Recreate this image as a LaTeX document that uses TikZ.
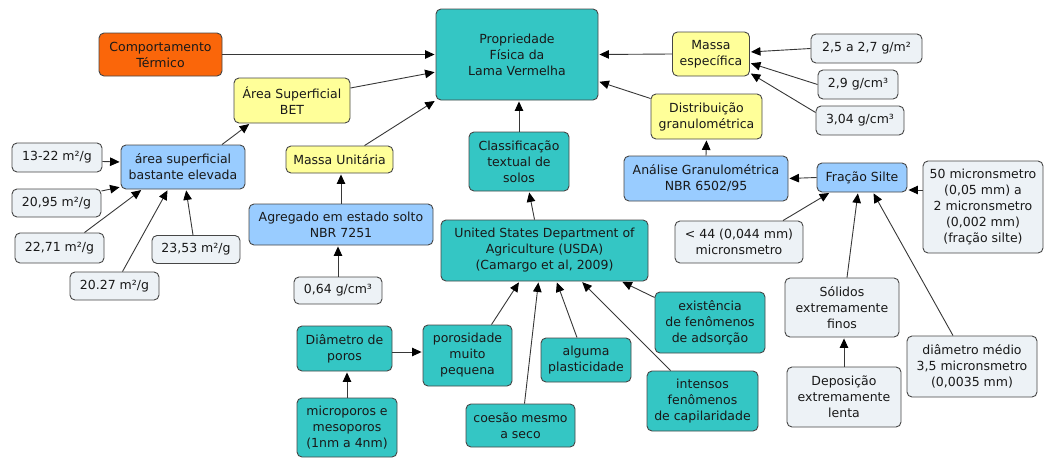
\documentclass[tikz,border=0pt]{standalone}
\usepackage{fontspec}
\setmainfont{DejaVu Sans}
\usetikzlibrary{arrows.meta,shapes}
\definecolor{tealbox}{RGB}{52,198,196}
\definecolor{yellowbox}{RGB}{255,255,153}
\definecolor{bluebox}{RGB}{153,204,255}
\definecolor{greybox}{RGB}{237,242,246}
\definecolor{orangebox}{RGB}{250,102,10}
\definecolor{edgecol}{RGB}{70,70,70}
\definecolor{linkcol}{RGB}{55,55,55}
\definecolor{textcol}{RGB}{25,25,25}

\begin{document}
\begin{tikzpicture}[x=1pt,y=-1pt,>={Triangle[length=9.5pt,width=8.5pt,color=black]},shorten >=1pt,font=\fontsize{12.5}{16}\selectfont,text=textcol]
 \tikzstyle{concept}=[draw=edgecol,line width=0.9pt,rounded corners=5pt,align=center,inner sep=1pt]
 \tikzstyle{cteal}=[concept,fill=tealbox]
 \tikzstyle{cyellow}=[concept,fill=yellowbox]
 \tikzstyle{cblue}=[concept,fill=bluebox]
 \tikzstyle{cgrey}=[concept,fill=greybox]
 \tikzstyle{corange}=[concept,fill=orangebox]
 \tikzstyle{link}=[->,draw=linkcol,line width=0.9pt]

   \useasboundingbox (0,0) rectangle (1046,458);

   % centre and the ones that point at it
   \node[cteal,minimum width=162,minimum height=91] (prop) at (517,54.5) {Propriedade\\Física da\\Lama Vermelha};
   \node[corange,minimum width=123,minimum height=43] (comp) at (160.5,54.5) {Comportamento\\Térmico};
   \node[cyellow,minimum width=116,minimum height=45] (bet) at (292,100.5) {Área Superficial\\BET};
   \node[cyellow,minimum width=107,minimum height=27] (massaunit) at (339.5,159.5) {Massa Unitária};
   \node[cyellow,minimum width=77,minimum height=44] (massaesp) at (711,54) {Massa\\específica};
   \node[cyellow,minimum width=111,minimum height=45] (distgran) at (706.5,116.5) {Distribuição\\granulométrica};
   \node[cteal,minimum width=100,minimum height=59] (classif) at (519,161.5) {Classificação\\textual de\\solos};

   % massa especifica
   \node[cgrey,minimum width=111,minimum height=29] (me1) at (866.5,48.5) {2,5 a 2,7 g/m²};
   \node[cgrey,minimum width=80,minimum height=29] (me2) at (858,84.5) {2,9 g/cm³};
   \node[cgrey,minimum width=88,minimum height=29] (me3) at (860,120.5) {3,04 g/cm³};

   % area superficial
   \node[cblue,minimum width=124,minimum height=44] (areasup) at (183,167) {área superficial\\bastante elevada};
   \node[cgrey,minimum width=90,minimum height=29] (as1) at (57,157.5) {13-22 m²/g};
   \node[cgrey,minimum width=89,minimum height=28] (as2) at (56.5,203) {20,95 m²/g};
   \node[cgrey,minimum width=89,minimum height=30] (as3) at (59.5,248) {22,71 m²/g};
   \node[cgrey,minimum width=88,minimum height=28] (as4) at (196,249.5) {23,53 m²/g};
   \node[cgrey,minimum width=89,minimum height=28] (as5) at (114.5,286) {20.27 m²/g};

   % massa unitaria
   \node[cblue,minimum width=184,minimum height=41] (agreg) at (341,224.5) {Agregado em estado solto\\NBR 7251};
   \node[cgrey,minimum width=88,minimum height=27] (mu1) at (338,290.5) {0,64 g/cm³};

   % classificacao textual
   \node[cteal,minimum width=207,minimum height=61] (usda) at (544.5,250.5) {United States Department of\\Agriculture (USDA)\\(Camargo et al, 2009)};
   \node[cteal,minimum width=89,minimum height=61] (porosid) at (467.5,355.5) {porosidade\\muito\\pequena};
   \node[cteal,minimum width=95,minimum height=45] (diamporos) at (344.5,348.5) {Diâmetro de\\poros};
   \node[cteal,minimum width=100,minimum height=59] (microp) at (347,427.5) {microporos e\\mesoporos\\(1nm a 4nm)};
   \node[cteal,minimum width=109,minimum height=43] (coesao) at (520.5,425.5) {coesão mesmo\\a seco};
   \node[cteal,minimum width=90,minimum height=44] (plastic) at (586,360) {alguma\\plasticidade};
   \node[cteal,minimum width=110,minimum height=61] (adsorcao) at (710,322.5) {existência\\de fenômenos\\de adsorção};
   \node[cteal,minimum width=111,minimum height=60] (capilar) at (702.5,401) {intensos\\fenômenos\\de capilaridade};

   % distribuicao granulometrica
   \node[cblue,minimum width=164,minimum height=45] (analgran) at (706,178.5) {Análise Granulométrica\\NBR 6502/95};
   \node[cblue,minimum width=90,minimum height=29] (silte) at (862,177.5) {Fração Silte};
   \node[cgrey,minimum width=120,minimum height=92] (silte1) at (983,207) {50 micronsmetro\\(0,05 mm) a\\2 micronsmetro\\(0,002 mm)\\(fração silte)};
   \node[cgrey,minimum width=128,minimum height=42] (silte2) at (739,242) {< 44 (0,044 mm)\\micronsmetro};
   \node[cgrey,minimum width=114,minimum height=59] (solidos) at (842,307.5) {Sólidos\\extremamente\\finos};
   \node[cgrey,minimum width=114,minimum height=60] (deposicao) at (844,397) {Deposição\\extremamente\\lenta};
   \node[cgrey,minimum width=130,minimum height=61] (diammed) at (972,366.5) {diâmetro médio\\3,5 micronsmetro\\(0,0035 mm)};

   % links
   \draw[link] (comp.east) -- (prop.west);
   \draw[link] ([yshift=12.5pt]bet.east) -- ([yshift=-17.5pt]prop.west);
   \draw[link] ([xshift=25pt]massaunit.north) -- (prop.south west);
   \draw[link] (massaesp.west) -- (prop.east);
   \draw[link] ([yshift=18pt]distgran.west) -- ([yshift=-27pt]prop.east);
   \draw[link] (classif.north) -- (classif.north |- prop.south);

   \draw[link] (me1.west) -- ([yshift=2pt]massaesp.east);
   \draw[link] (me2.west) -- ([yshift=-9pt]massaesp.east);
   \draw[link] ([yshift=8pt]me3.west) -- ([yshift=-19pt]massaesp.east);

   \draw[link] ([xshift=39pt]areasup.north) -- ([xshift=-42pt]bet.south);
   \draw[link] ([yshift=-4pt]as1.east) -- ([yshift=5pt]areasup.west);
   \draw[link] ([yshift=12pt]as2.east) -- ([yshift=-20pt]areasup.west);
   \draw[link] ([xshift=25pt]as3.north) -- ([xshift=-41pt]areasup.south);
   \draw[link] ([xshift=8pt]as5.north) -- ([xshift=-15pt]areasup.south);
   \draw[link] ([xshift=-3pt]as4.north) -- ([xshift=3pt]areasup.south);

   \draw[link] (agreg.north) -- (agreg.north |- massaunit.south);
   \draw[link] (mu1.north) -- (mu1.north |- agreg.south);

   \draw[link] ([xshift=-10pt]usda.north) -- ([xshift=10pt]classif.south);
   \draw[link] ([xshift=24pt]porosid.north) -- ([xshift=-25pt]usda.south);
   \draw[link] ([xshift=4pt]coesao.north) -- ([xshift=-6pt]usda.south);
   \draw[link] ([xshift=-9pt]plastic.north) -- ([xshift=12pt]usda.south);
   \draw[link] ([xshift=-32pt]capilar.north) -- ([xshift=37pt]usda.south);
   \draw[link] ([yshift=25pt]adsorcao.west) -- ([xshift=77pt]usda.south);
   \draw[link] ([yshift=-3.5pt]diamporos.east) -- ([yshift=3.5pt]porosid.west);
   \draw[link] (microp.north) -- (microp.north |- diamporos.south);

   \draw[link] (analgran.north) -- (distgran.south);
   \draw[link] (silte.west) -- (analgran.east);
   \draw[link] ([yshift=17pt]silte1.west) -- ([yshift=-12.5pt]silte.east);
   \draw[link] ([xshift=44pt]silte2.north) -- ([xshift=-32pt]silte.south);
   \draw[link] ([xshift=5pt]solidos.north) -- ([xshift=-4pt]silte.south);
   \draw[link] ([xshift=-19pt]diammed.north) -- ([xshift=11pt]silte.south);
   \draw[link] (deposicao.north) -- (deposicao.north |- solidos.south);

\end{tikzpicture}
\end{document}
